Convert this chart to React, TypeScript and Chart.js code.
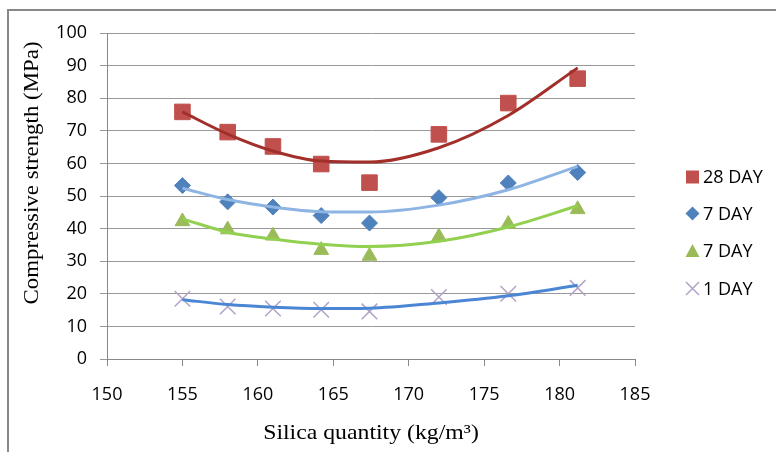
import React, { useEffect, useRef } from 'react';
import { Chart, registerables } from 'chart.js';

Chart.register(...registerables);

// ---- data ----
const silica = [155, 158, 161, 164.2, 167.4, 172, 176.6, 181.2];
const day28 = [75.8, 69.6, 65.2, 59.8, 54.1, 68.9, 78.5, 86.0];
const day7Diamond = [53.2, 48.2, 46.6, 44.0, 41.7, 49.5, 54.0, 57.2];
const day7Triangle = [42.2, 39.7, 37.8, 33.4, 31.6, 37.5, 41.4, 45.9];
const day1 = [18.5, 16.1, 15.5, 15.1, 14.6, 19.0, 20.0, 21.8];

// polynomial trendlines as drawn in the picture (read at the same x values)
const trend28 = [75.8, 69.0, 63.8, 60.7, 60.4, 64.8, 74.7, 89.3];
const trend7Diamond = [52.4, 48.9, 46.6, 45.2, 45.1, 47.2, 51.9, 59.1];
const trend7Triangle = [43.0, 38.9, 36.8, 35.2, 34.5, 36.1, 40.5, 47.0];
const trend1 = [18.2, 16.7, 15.9, 15.5, 15.6, 17.2, 19.4, 22.6];

const seriesNames = ['28 DAY', '7 DAY', '7 DAY', '1 DAY'];
const xTitle = 'Silica quantity (kg/m\u00B3)';
const yTitle = 'Compressive strength (MPa)';
const xMin = 150, xMax = 185, xStep = 5;
const yMin = 0, yMax = 100, yStep = 10;

const markerColors = ['#C0504D', '#4F81BD', '#9BBB59', '#B3A2C7'];
const markerStyles = ['rect', 'rectRot', 'triangle', 'crossRot'];
const markerRadius = [11, 8, 8.5, 11];
const trendColors = ['#A32F2B', '#8DB4E2', '#92D050', '#4A86D4'];

const pts = (ys: number[]) => ys.map((y, i) => ({ x: silica[i], y }));

const overlayPlugin = {
  id: 'overlay',
  afterDraw(chart: any) {
    const ctx = chart.ctx as CanvasRenderingContext2D;
    ctx.save();
    ctx.fillStyle = '#000';
    ctx.font = '22px "Liberation Serif", "Times New Roman", serif';
    ctx.textAlign = 'center';
    ctx.textBaseline = 'middle';
    // y title
    ctx.save();
    ctx.translate(32, 173);
    ctx.rotate(-Math.PI / 2);
    ctx.scale(1.04, 1);
    ctx.fillText(yTitle, 0, 0);
    ctx.restore();
    // x title
    ctx.save();
    ctx.translate((chart.chartArea.left + chart.chartArea.right) / 2, 433);
    ctx.scale(1.08, 1);
    ctx.fillText(xTitle, 0, 0);
    ctx.restore();

    // legend
    const lx = 692.5;
    const ly = [177, 213.5, 251, 288.5];
    ctx.font = '18px "Open Sans", sans-serif';
    ctx.textAlign = 'left';
    for (let i = 0; i < seriesNames.length; i++) {
      const y = ly[i];
      ctx.fillStyle = markerColors[i];
      ctx.strokeStyle = markerColors[i];
      ctx.beginPath();
      if (i === 0) {
        ctx.rect(lx - 6.5, y - 6.5, 13, 13);
        ctx.fill();
      } else if (i === 1) {
        ctx.moveTo(lx - 7, y); ctx.lineTo(lx, y - 7); ctx.lineTo(lx + 7, y); ctx.lineTo(lx, y + 7);
        ctx.closePath(); ctx.fill();
      } else if (i === 2) {
        ctx.moveTo(lx, y - 7); ctx.lineTo(lx + 7, y + 6); ctx.lineTo(lx - 7, y + 6);
        ctx.closePath(); ctx.fill();
      } else {
        ctx.lineWidth = 1.5;
        ctx.moveTo(lx - 6.5, y - 6.5); ctx.lineTo(lx + 6.5, y + 6.5);
        ctx.moveTo(lx + 6.5, y - 6.5); ctx.lineTo(lx - 6.5, y + 6.5);
        ctx.stroke();
      }
      ctx.fillStyle = '#000';
      ctx.fillText(seriesNames[i], 703, y + 1);
    }
    ctx.restore();
  },
};

export default function App() {
  const ref = useRef<HTMLCanvasElement>(null);

  useEffect(() => {
    const prevMargin = document.body.style.margin;
    document.body.style.margin = '0';
    const canvas = ref.current!;
    const trends = [trend28, trend7Diamond, trend7Triangle, trend1];
    const series = [day28, day7Diamond, day7Triangle, day1];

    const datasets: any[] = [];
    trends.forEach((t, i) => {
      datasets.push({
        label: seriesNames[i] + ' trend',
        data: pts(t),
        showLine: true,
        borderColor: trendColors[i],
        backgroundColor: trendColors[i],
        borderWidth: 3,
        pointRadius: 0,
        cubicInterpolationMode: 'monotone',
      });
    });
    series.forEach((s, i) => {
      datasets.push({
        label: seriesNames[i],
        data: pts(s),
        showLine: false,
        pointStyle: markerStyles[i],
        pointRadius: markerRadius[i],
        pointBackgroundColor: markerColors[i],
        pointBorderColor: markerColors[i],
        pointBorderWidth: i === 3 ? 1.5 : 1,
      });
    });

    const chart = new Chart(canvas, {
      type: 'scatter',
      data: { datasets },
      options: {
        animation: false,
        responsive: false,
        maintainAspectRatio: false,
        layout: { padding: { left: 0, right: 141, top: 33, bottom: 0 } },
        plugins: { legend: { display: false }, tooltip: { enabled: false } },
        scales: {
          x: {
            type: 'linear',
            min: xMin,
            max: xMax,
            afterFit: (s: any) => { s.height = 93; },
            ticks: {
              stepSize: xStep,
              padding: 18,
              color: '#000',
              font: { family: '"Open Sans", sans-serif', size: 18 },
            },
            grid: { drawOnChartArea: false, drawTicks: true, tickLength: 7, color: '#888', lineWidth: 1 },
            border: { color: '#888', width: 1 },
          },
          y: {
            type: 'linear',
            min: yMin,
            max: yMax,
            afterFit: (s: any) => { s.width = 107; },
            ticks: {
              stepSize: yStep,
              padding: 13,
              color: '#000',
              font: { family: '"Open Sans", sans-serif', size: 18 },
            },
            grid: { color: '#999', lineWidth: 1, tickLength: 7 },
            border: { color: '#888', width: 1 },
          },
        },
      },
      plugins: [overlayPlugin],
    });
    return () => {
      chart.destroy();
      document.body.style.margin = prevMargin;
    };
  }, []);

  return (
    <div style={{ position: 'relative', width: 776, height: 452, background: '#fff', overflow: 'hidden' }}>
      <canvas ref={ref} width={776} height={452} style={{ position: 'absolute', left: 0, top: 0, width: 776, height: 452 }} />
      <div style={{ position: 'absolute', left: 7, top: 9, right: 0, bottom: 0, borderTop: '2px solid #888', borderLeft: '2px solid #888', pointerEvents: 'none' }} />
    </div>
  );
}
